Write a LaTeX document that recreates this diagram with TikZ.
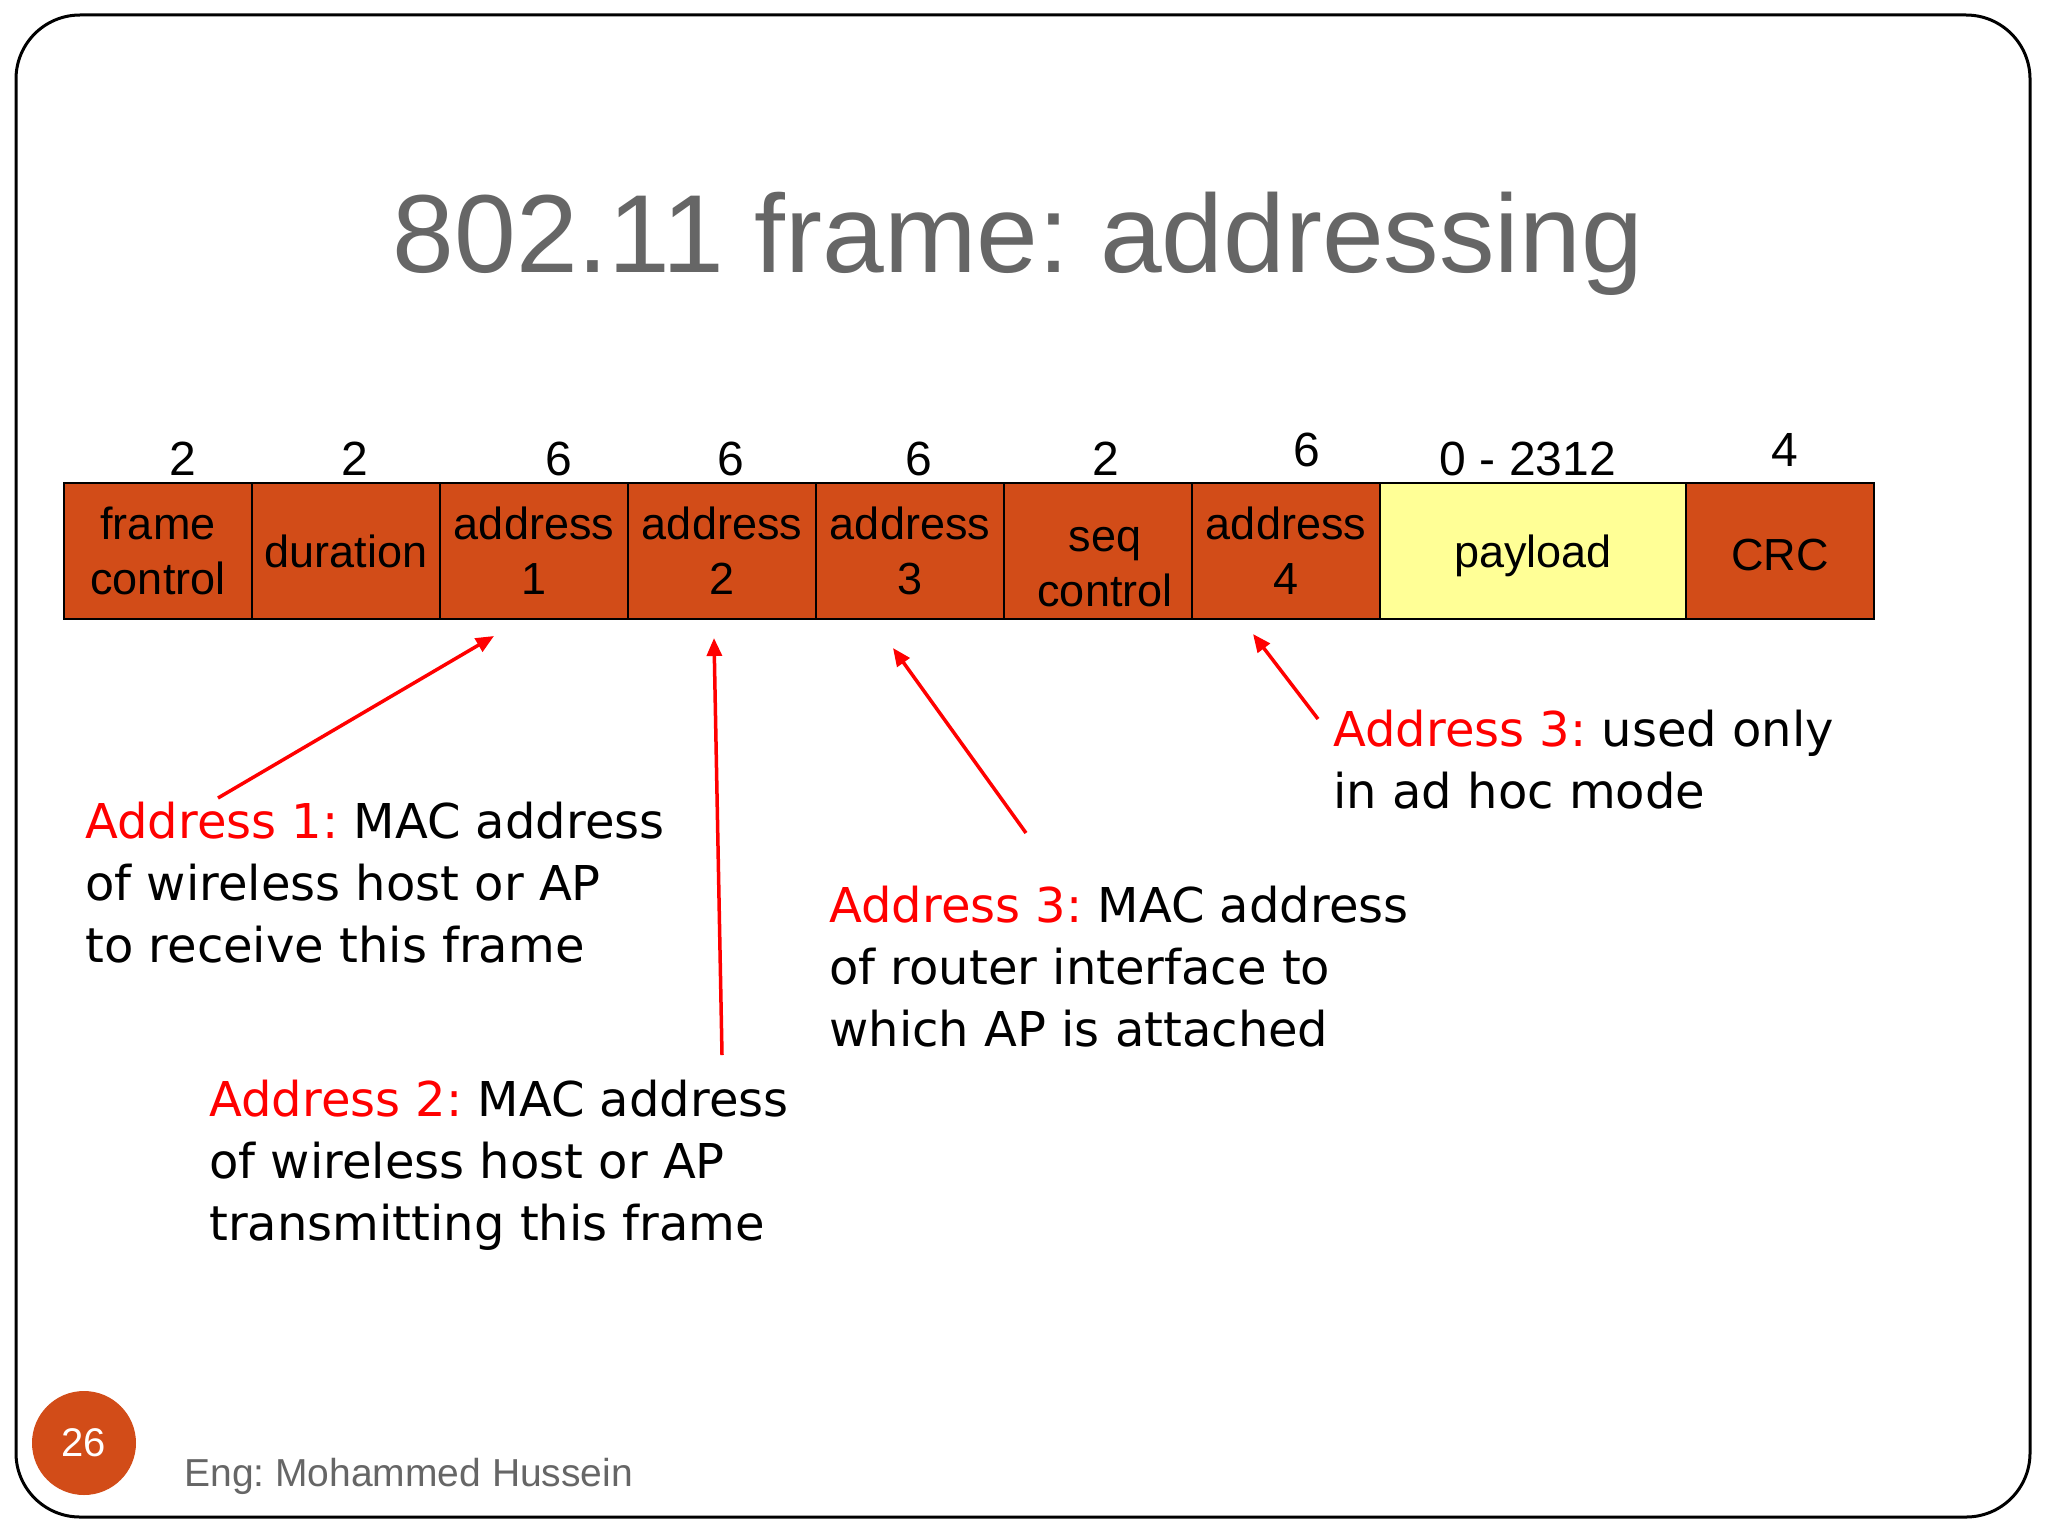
\documentclass[tikz,border=0pt]{standalone}
\usepackage{fontspec}
\setmainfont{Liberation Sans}
\newfontfamily\notefont{DejaVu Sans}
\usetikzlibrary{arrows.meta,calc,positioning}
\definecolor{FieldClr}{RGB}{210,76,24}
\definecolor{PayloadClr}{RGB}{255,255,150}
\definecolor{TitleClr}{RGB}{102,102,102}
\definecolor{NoteClr}{RGB}{255,0,0}
\frenchspacing

\tikzset{
  field/.style={draw=black,line width=1.3pt,fill=FieldClr,minimum width=94pt,
    minimum height=68pt,inner sep=0pt,outer sep=0pt,align=center,
    font=\fontsize{22.5}{27.5}\selectfont},
  fieldtext/.style={align=center,inner sep=0pt,font=\fontsize{22.5}{27.5}\selectfont},
  bytes/.style={anchor=base,inner sep=0pt,font=\fontsize{24}{28}\selectfont},
  note/.style={anchor=base west,inner sep=0pt,align=left,
    font=\notefont\fontsize{24}{31}\selectfont},
  pointer/.style={draw=NoteClr,line width=1.75pt,-{Triangle[length=9pt,width=7.5pt]}}
}

\begin{document}
\begin{tikzpicture}[x=0.5pt,y=-0.5pt]
\useasboundingbox (0,0) rectangle (2048,1536);

% slide frame
\draw[line width=1.5pt,rounded corners=32pt] (16,15) rectangle (2030,1517);

\node[anchor=base,text=TitleClr,font=\fontsize{55.5}{60}\selectfont] (title) at (1018,272) {802.11 frame: addressing};

% header fields
\node[field] (fc) at (158,551) {frame\\control};
\node[field,right=0pt of fc] (dur) {duration};
\node[field,right=0pt of dur] (ad1) {address\\1};
\node[field,right=0pt of ad1] (ad2) {address\\2};
\node[field,right=0pt of ad2] (ad3) {address\\3};
\node[field,right=0pt of ad3] (seq) {};
\node[fieldtext] (seqtext) at ([xshift=3.5pt,yshift=-8pt]seq.center) {seq\\control};
\node[field,right=0pt of seq] (ad4) {address\\4};
\node[field,fill=PayloadClr,minimum width=153pt,right=0pt of ad4] (pay) {};
\node[fieldtext] (paytext) at ([yshift=-2.5pt]pay.center) {payload};
\node[field,right=0pt of pay] (crc) {};
\node[fieldtext] (crctext) at ([yshift=-2pt]crc.center) {CRC};

% field sizes
\node[bytes] (sfc) at (183,475) {2};
\node[bytes] (sdur) at (355,475) {2};
\node[bytes] (sad1) at (559,475) {6};
\node[bytes] (sad2) at (731,475) {6};
\node[bytes] (sad3) at (919,475) {6};
\node[bytes] (sseq) at (1106,475) {2};
\node[bytes] (sad4) at (1307,466) {6};
\node[bytes] (spay) at (1528,475) {0 - 2312};
\node[bytes] (scrc) at (1785,466) {4};

% notes (base = last line)
\node[note] (note1) at (85,962) {{\color{NoteClr}Address 1:} MAC address\\of wireless host or AP\\to receive this frame};
\node[note] (note2) at (209,1240) {{\color{NoteClr}Address 2:} MAC address\\of wireless host or AP\\transmitting this frame};
\node[note] (note3) at (829,1046) {{\color{NoteClr}Address 3:} MAC address\\of router interface to\\which AP is attached};
\node[note] (note4) at (1333,808) {{\color{NoteClr}Address 3:} used only\\in ad hoc mode};

\coordinate (tail1) at (218,798);
\coordinate (tip1) at (494,636);
\coordinate (tail2) at (722,1055);
\coordinate (tip2) at (714,638);
\coordinate (tail3) at (1026,833);
\coordinate (tip3) at (893,648);
\coordinate (tail4) at (1318,719);
\coordinate (tip4) at (1253,634);

\draw[pointer] (tail1) -- (tip1);
\draw[pointer] (tail2) -- (tip2);
\draw[pointer] (tail3) -- (tip3);
\draw[pointer] (tail4) -- (tip4);

% footer
\node[circle,fill=FieldClr,minimum size=52pt,inner sep=0pt,text=white,
  font=\fontsize{20}{24}\selectfont] (page) at (84,1443) {26};
\node[anchor=base west,inner sep=0pt,text=TitleClr,font=\fontsize{19.5}{23}\selectfont] (author) at (184,1486) {Eng: Mohammed Hussein};

\end{tikzpicture}
\end{document}
